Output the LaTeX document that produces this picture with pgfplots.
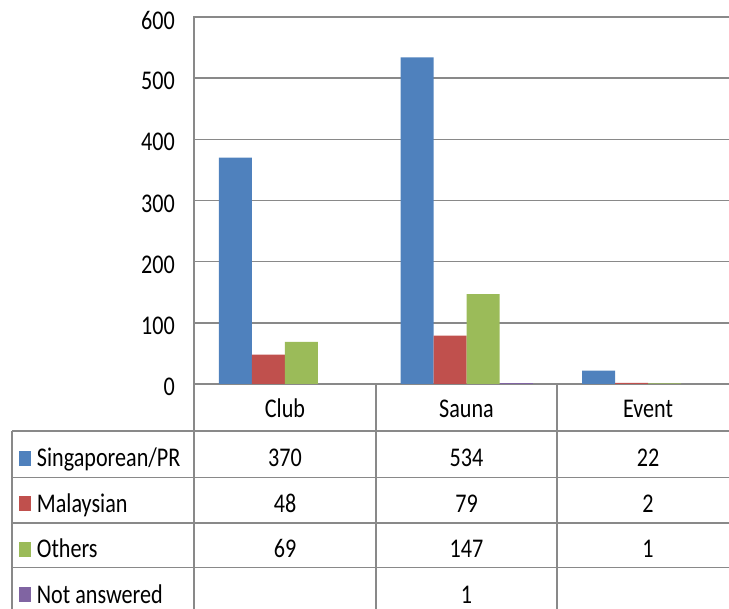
\documentclass[border=0pt]{standalone}
\usepackage{pgfplots}
\pgfplotsset{compat=1.18}
\usepackage{fontspec}
\setmainfont{Carlito}[FakeStretch=0.82]
\definecolor{sblue}{HTML}{4F81BD}
\definecolor{sred}{HTML}{C0504D}
\definecolor{sgreen}{HTML}{9BBB59}
\definecolor{spurple}{HTML}{8064A2}
\definecolor{lgray}{HTML}{898989}
\begin{document}
\fontsize{27}{32}\selectfont
\begin{tikzpicture}
\useasboundingbox (0pt,0pt) rectangle (729pt,-609pt);
\clip (0pt,0pt) rectangle (729pt,-609pt);
\begin{axis}[
  at={(194pt,-384pt)}, anchor=south west,
  scale only axis, width=545pt, height=367pt,
  xmin=-0.5, xmax=2.5, ymin=0, ymax=600,
  ytick={0,100,200,300,400,500,600}, xtick=\empty,
  ymajorgrids, grid style={lgray, line width=1.6pt},
  major tick length=0pt,
  ybar=0pt, bar width=33pt,
  yticklabel style={anchor=east, inner sep=0pt, xshift=-19pt, yshift=-3pt},
  /pgf/number format/assume math mode=true,
  axis line style={lgray, line width=1.6pt},
]
\addplot[fill=sblue, draw=none] coordinates {(0,370) (1,534) (2,22)};
\addplot[fill=sred, draw=none] coordinates {(0,48) (1,79) (2,2)};
\addplot[fill=sgreen, draw=none] coordinates {(0,69) (1,147) (2,1)};
\addplot[fill=spurple, draw=none] coordinates {(1,1)};
\end{axis}
\begin{scope}[x=1pt,y=-1pt]
\draw[lgray, line width=1.6pt]
  (194,384) -- (194,609)
  (376,384) -- (376,609)
  (557,384) -- (557,609)
  (12,431) -- (12,609)
  (12,431) -- (729,431)
  (12,477.7) -- (729,477.7)
  (12,523) -- (729,523)
  (12,567.7) -- (729,567.7);
\node[anchor=base] at (285,418) {Club};
\node[anchor=base] at (466.5,418) {Sauna};
\node[anchor=base] at (648,418) {Event};
% row 1
\fill[sblue] (19.3,451) rectangle (31,466);
\node[anchor=base west, inner sep=0pt] at (36.7,467) {Singaporean/PR};
\node[anchor=base] at (285,467) {370};
\node[anchor=base] at (466.5,467) {534};
\node[anchor=base] at (648,467) {22};
% row 2
\fill[sred] (19.3,496.5) rectangle (31,511.5);
\node[anchor=base west, inner sep=0pt] at (36.7,512.5) {Malaysian};
\node[anchor=base] at (285,512.5) {48};
\node[anchor=base] at (466.5,512.5) {79};
\node[anchor=base] at (648,512.5) {2};
% row 3
\fill[sgreen] (19.3,542) rectangle (31,557);
\node[anchor=base west, inner sep=0pt] at (36.7,558) {Others};
\node[anchor=base] at (285,558) {69};
\node[anchor=base] at (466.5,558) {147};
\node[anchor=base] at (648,558) {1};
% row 4
\fill[spurple] (19.3,587.5) rectangle (31,602.5);
\node[anchor=base west, inner sep=0pt] at (36.7,603.5) {Not answered};
\node[anchor=base] at (466.5,603.5) {1};
\end{scope}
\end{tikzpicture}
\end{document}
